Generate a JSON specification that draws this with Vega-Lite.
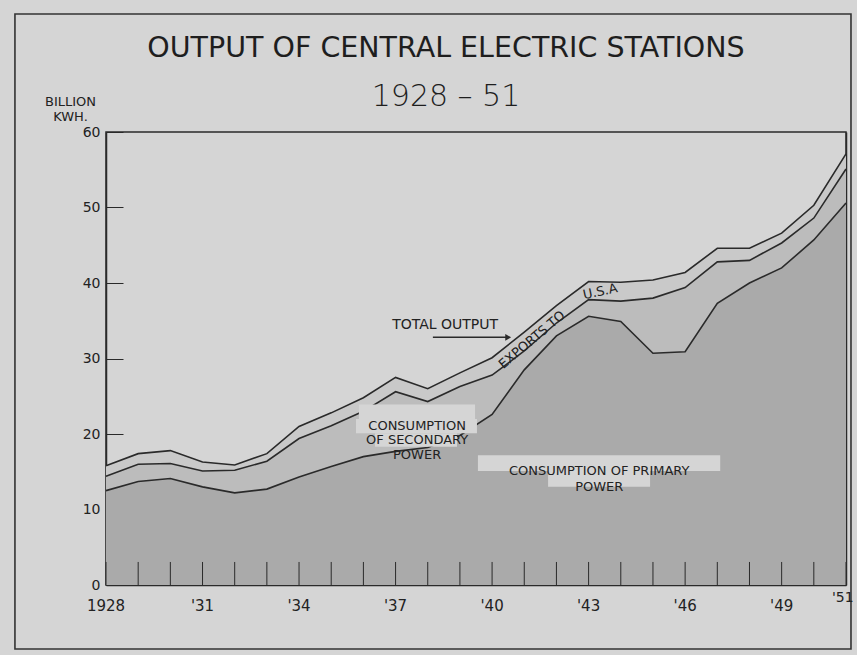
{
  "$schema": "https://vega.github.io/schema/vega-lite/v6.json",
  "width": 740,
  "height": 453,
  "autosize": {"type": "none"},
  "padding": {"left": 106, "top": 132, "right": 11, "bottom": 70},
  "background": "#d5d5d5",
  "title": {
    "text": "OUTPUT OF CENTRAL ELECTRIC STATIONS",
    "subtitle": "1928 – 51",
    "anchor": "middle",
    "frame": "group",
    "dx": -30,
    "offset": -99,
    "font": "DejaVu Sans",
    "fontSize": 28.5,
    "fontWeight": "normal",
    "color": "#1e1e1e",
    "subtitleFont": "DejaVu Sans",
    "subtitleFontSize": 30,
    "subtitleFontWeight": 200,
    "subtitleColor": "#1e1e1e",
    "subtitlePadding": 20
  },
  "config": {
    "view": {"stroke": "#2a2a2a", "strokeWidth": 1.5},
    "font": "DejaVu Sans",
    "axis": {"domainColor": "#2a2a2a", "tickColor": "#2a2a2a", "labelColor": "#222222", "grid": false, "labelFont": "DejaVu Sans", "titleFont": "DejaVu Sans", "titleColor": "#222222", "zindex": 1},
    "text": {"font": "DejaVu Sans", "fontSize": 13, "color": "#222222"}
  },
  "data": {
    "values": [
      {"year": 1928, "label": "1928", "primary": 12.5, "domestic": 14.4, "total": 15.8},
      {"year": 1929, "label": "", "primary": 13.7, "domestic": 16.0, "total": 17.4},
      {"year": 1930, "label": "", "primary": 14.1, "domestic": 16.1, "total": 17.8},
      {"year": 1931, "label": "'31", "primary": 13.0, "domestic": 15.1, "total": 16.3},
      {"year": 1932, "label": "", "primary": 12.2, "domestic": 15.2, "total": 15.9},
      {"year": 1933, "label": "", "primary": 12.7, "domestic": 16.4, "total": 17.4},
      {"year": 1934, "label": "'34", "primary": 14.3, "domestic": 19.4, "total": 21.0},
      {"year": 1935, "label": "", "primary": 15.7, "domestic": 21.1, "total": 22.8},
      {"year": 1936, "label": "", "primary": 17.0, "domestic": 23.0, "total": 24.8},
      {"year": 1937, "label": "'37", "primary": 17.7, "domestic": 25.6, "total": 27.5},
      {"year": 1938, "label": "", "primary": 18.2, "domestic": 24.3, "total": 26.0},
      {"year": 1939, "label": "", "primary": 19.8, "domestic": 26.3, "total": 28.1},
      {"year": 1940, "label": "'40", "primary": 22.6, "domestic": 27.8, "total": 30.1},
      {"year": 1941, "label": "", "primary": 28.5, "domestic": 31.0, "total": 33.5},
      {"year": 1942, "label": "", "primary": 33.0, "domestic": 34.7, "total": 37.0},
      {"year": 1943, "label": "'43", "primary": 35.6, "domestic": 37.8, "total": 40.2},
      {"year": 1944, "label": "", "primary": 34.9, "domestic": 37.6, "total": 40.1},
      {"year": 1945, "label": "", "primary": 30.7, "domestic": 38.0, "total": 40.4},
      {"year": 1946, "label": "'46", "primary": 30.9, "domestic": 39.4, "total": 41.4},
      {"year": 1947, "label": "", "primary": 37.3, "domestic": 42.8, "total": 44.6},
      {"year": 1948, "label": "", "primary": 40.0, "domestic": 43.0, "total": 44.6},
      {"year": 1949, "label": "'49", "primary": 42.0, "domestic": 45.3, "total": 46.6},
      {"year": 1950, "label": "", "primary": 45.7, "domestic": 48.6, "total": 50.3},
      {"year": 1951, "label": "", "primary": 50.6, "domestic": 55.1, "total": 57.1}
    ]
  },
  "resolve": {"axis": {"y": "independent"}},
  "layer": [
    {
      "data": {"values": [{}]},
      "mark": {"type": "rect", "fill": null, "stroke": "#333333", "strokeWidth": 1.6},
      "encoding": {
        "x": {"datum": 1925.17, "type": "quantitative"}, "x2": {"datum": 1951.155},
        "y": {"datum": 75.63, "type": "quantitative", "axis": null}, "y2": {"datum": -8.48}
      }
    },
    {
      "mark": {"type": "area", "fill": "#aaaaaa"},
      "encoding": {
        "x": {
          "field": "year", "type": "quantitative",
          "scale": {"domain": [1928, 1951], "nice": false, "zero": false},
          "axis": {"labels": false, "ticks": false, "title": null, "domainWidth": 1.5}
        },
        "y": {
          "field": "primary", "type": "quantitative",
          "scale": {"domain": [0, 60], "nice": false},
          "axis": {
            "values": [0, 10, 20, 30, 40, 50, 60],
            "tickSize": -17, "tickWidth": 1,
            "labelFontSize": 14, "labelPadding": 23,
            "title": ["BILLION", "KWH."],
            "titleAngle": 0, "titleAlign": "center", "titleBaseline": "alphabetic",
            "titleX": -36, "titleY": -27, "titleFontSize": 13, "titleFontWeight": "normal", "titleLineHeight": 15,
            "domainWidth": 1.5
          }
        }
      }
    },
    {
      "mark": {"type": "area", "fill": "#bcbcbc"},
      "encoding": {
        "x": {"field": "year", "type": "quantitative"},
        "y": {"field": "domestic", "type": "quantitative", "axis": null},
        "y2": {"field": "primary"}
      }
    },
    {
      "mark": {"type": "area", "fill": "#c9c9c9"},
      "encoding": {
        "x": {"field": "year", "type": "quantitative"},
        "y": {"field": "total", "type": "quantitative", "axis": null},
        "y2": {"field": "domestic"}
      }
    },
    {
      "mark": {"type": "rule", "color": "#2a2a2a", "strokeWidth": 1},
      "encoding": {
        "x": {"field": "year", "type": "quantitative"},
        "y": {"datum": 0, "type": "quantitative", "axis": null},
        "y2": {"datum": 3.05}
      }
    },
    {
      "mark": {"type": "text", "fontSize": 15, "align": "center", "baseline": "middle"},
      "encoding": {
        "x": {"field": "year", "type": "quantitative"},
        "y": {"datum": -2.8, "type": "quantitative", "axis": null},
        "text": {"field": "label"}
      }
    },
    {
      "data": {"values": [{}]},
      "mark": {"type": "text", "text": "'51", "fontSize": 14, "align": "center", "baseline": "middle"},
      "encoding": {
        "x": {"datum": 1950.9, "type": "quantitative"},
        "y": {"datum": -1.75, "type": "quantitative", "axis": null}
      }
    },
    {
      "mark": {"type": "line", "color": "#2a2a2a", "strokeWidth": 1.6},
      "encoding": {
        "x": {"field": "year", "type": "quantitative"},
        "y": {"field": "primary", "type": "quantitative", "axis": null}
      }
    },
    {
      "mark": {"type": "line", "color": "#2a2a2a", "strokeWidth": 1.6},
      "encoding": {
        "x": {"field": "year", "type": "quantitative"},
        "y": {"field": "domestic", "type": "quantitative", "axis": null}
      }
    },
    {
      "mark": {"type": "line", "color": "#2a2a2a", "strokeWidth": 1.6},
      "encoding": {
        "x": {"field": "year", "type": "quantitative"},
        "y": {
          "field": "total", "type": "quantitative",
          "axis": {"orient": "right", "values": [10, 20, 30, 40, 50], "tickSize": -17, "tickWidth": 1, "labels": false, "title": null, "domainWidth": 1.5}
        }
      }
    },
    {
      "data": {"values": [{}]},
      "mark": {"type": "rect", "fill": "#d5d5d5"},
      "encoding": {
        "x": {"datum": 1939.56, "type": "quantitative"}, "x2": {"datum": 1947.09},
        "y": {"datum": 17.2, "type": "quantitative", "axis": null}, "y2": {"datum": 15.1}
      }
    },
    {
      "data": {"values": [{}]},
      "mark": {"type": "rect", "fill": "#d5d5d5"},
      "encoding": {
        "x": {"datum": 1941.74, "type": "quantitative"}, "x2": {"datum": 1944.91},
        "y": {"datum": 15.1, "type": "quantitative", "axis": null}, "y2": {"datum": 13.0}
      }
    },
    {
      "data": {"values": [{}]},
      "mark": {"type": "rect", "fill": "#d5d5d5"},
      "encoding": {
        "x": {"datum": 1935.86, "type": "quantitative"}, "x2": {"datum": 1939.47},
        "y": {"datum": 23.9, "type": "quantitative", "axis": null}, "y2": {"datum": 22.0}
      }
    },
    {
      "data": {"values": [{}]},
      "mark": {"type": "rect", "fill": "#d5d5d5"},
      "encoding": {
        "x": {"datum": 1935.77, "type": "quantitative"}, "x2": {"datum": 1939.53},
        "y": {"datum": 22.0, "type": "quantitative", "axis": null}, "y2": {"datum": 20.1}
      }
    },
    {
      "data": {"values": [{}]},
      "mark": {"type": "rect", "fill": "#d5d5d5"},
      "encoding": {
        "x": {"datum": 1936.36, "type": "quantitative"}, "x2": {"datum": 1938.91},
        "y": {"datum": 20.1, "type": "quantitative", "axis": null}, "y2": {"datum": 18.3}
      }
    },
    {
      "data": {"values": [{}]},
      "mark": {"type": "text", "text": "TOTAL OUTPUT", "fontSize": 14, "align": "center", "baseline": "middle"},
      "encoding": {
        "x": {"datum": 1938.54, "type": "quantitative"},
        "y": {"datum": 34.4, "type": "quantitative", "axis": null}
      }
    },
    {
      "data": {"values": [{}]},
      "mark": {"type": "rule", "color": "#2a2a2a", "strokeWidth": 1.5},
      "encoding": {
        "x": {"datum": 1938.16, "type": "quantitative"}, "x2": {"datum": 1940.45},
        "y": {"datum": 32.8, "type": "quantitative", "axis": null}
      }
    },
    {
      "data": {"values": [{}]},
      "mark": {"type": "point", "shape": "triangle-right", "filled": true, "color": "#2a2a2a", "size": 45, "opacity": 1},
      "encoding": {
        "x": {"datum": 1940.5, "type": "quantitative"},
        "y": {"datum": 32.8, "type": "quantitative", "axis": null}
      }
    },
    {
      "data": {"values": [{}]},
      "mark": {"type": "text", "text": "EXPORTS TO", "fontSize": 13, "align": "center", "baseline": "middle", "angle": -40},
      "encoding": {
        "x": {"datum": 1941.24, "type": "quantitative"},
        "y": {"datum": 32.45, "type": "quantitative", "axis": null}
      }
    },
    {
      "data": {"values": [{}]},
      "mark": {"type": "text", "text": "U.S.A", "fontSize": 13, "align": "center", "baseline": "middle", "angle": -12},
      "encoding": {
        "x": {"datum": 1943.36, "type": "quantitative"},
        "y": {"datum": 38.85, "type": "quantitative", "axis": null}
      }
    },
    {
      "data": {"values": [{}]},
      "mark": {"type": "text", "text": ["CONSUMPTION", "OF SECONDARY", "POWER"], "fontSize": 13, "align": "center", "baseline": "middle", "lineHeight": 14.5},
      "encoding": {
        "x": {"datum": 1937.67, "type": "quantitative"},
        "y": {"datum": 21.06, "type": "quantitative", "axis": null}
      }
    },
    {
      "data": {"values": [{}]},
      "mark": {"type": "text", "text": ["CONSUMPTION OF PRIMARY", "POWER"], "fontSize": 13, "align": "center", "baseline": "middle", "lineHeight": 16},
      "encoding": {
        "x": {"datum": 1943.33, "type": "quantitative"},
        "y": {"datum": 15.1, "type": "quantitative", "axis": null}
      }
    }
  ]
}
